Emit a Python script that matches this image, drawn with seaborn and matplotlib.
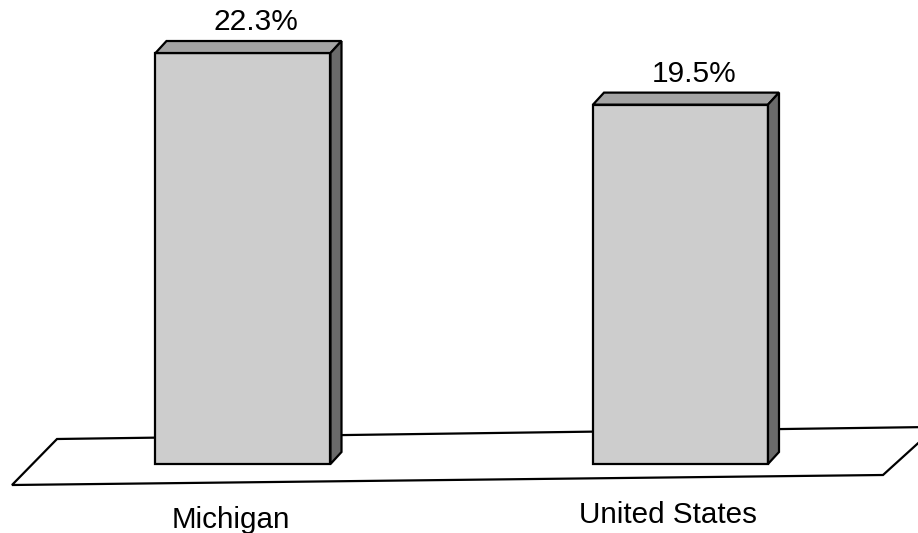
import matplotlib
matplotlib.use("Agg")
import matplotlib.pyplot as plt
from matplotlib.patches import Polygon
import seaborn as sns
import pandas as pd

# Data
regions = ["Michigan", "United States"]
rates = [22.3, 19.5]
value_labels = ["22.3%", "19.5%"]

sns.set_theme(style="white")
plt.rcParams["font.family"] = ["Liberation Sans", "DejaVu Sans"]

W, H = 918, 533
fig = plt.figure(figsize=(W / 100, H / 100), dpi=100)
ax = fig.add_axes([0, 0, 1, 1])

# pixel geometry helpers for the layout
px_per_cat = 437.5
x0_px = 243.0
px_per_unit = 18.43
base_px = 464.0

# floor (in axes fraction coords)
def fr(x, y):
    return (x / W, 1 - y / H)

floor = Polygon([fr(12, 485), fr(57, 439), fr(930, 427), fr(926, 436), fr(883, 475)],
                closed=True, facecolor="white", edgecolor="black", lw=1.6,
                transform=ax.transAxes, zorder=1, clip_on=False)
ax.add_patch(floor)

df = pd.DataFrame({"region": regions, "rate": rates})
width = 0.40
sns.barplot(data=df, x="region", y="rate", ax=ax, width=width,
            color="#cdcdcd", edgecolor="black", linewidth=1.6,
            saturation=1, zorder=3)
ax.set_xlim(-x0_px / px_per_cat, (W - x0_px) / px_per_cat)
ax.set_ylim(-(H - base_px) / px_per_unit, base_px / px_per_unit)
ax.axis("off")

# depth of the 3D extrusion
dx = 11 / px_per_cat
dy = 12 / px_per_unit

for i, h in enumerate(rates):
    xl = i - width / 2
    xr = i + width / 2
    top = Polygon([(xl, h), (xr, h), (xr + dx, h + dy), (xl + dx, h + dy)],
                  closed=True, facecolor="#a4a4a4", edgecolor="black",
                  lw=1.6, zorder=4)
    side = Polygon([(xr, 0), (xr, h), (xr + dx, h + dy), (xr + dx, dy)],
                   closed=True, facecolor="#6a6a6a", edgecolor="black",
                   lw=1.6, zorder=4)
    ax.add_patch(top)
    ax.add_patch(side)
    ax.text(i + 0.03, h + dy + 11 / px_per_unit, value_labels[i],
            ha="center", va="baseline", fontsize=21.5, color="black")
    ax.text(i - 0.028, -(523 - base_px) / px_per_unit - (5 if i == 0 else 0) / px_per_unit,
            regions[i], ha="center", va="baseline", fontsize=21.3, color="black")

fig.savefig("out.png", dpi=100, facecolor="white")
